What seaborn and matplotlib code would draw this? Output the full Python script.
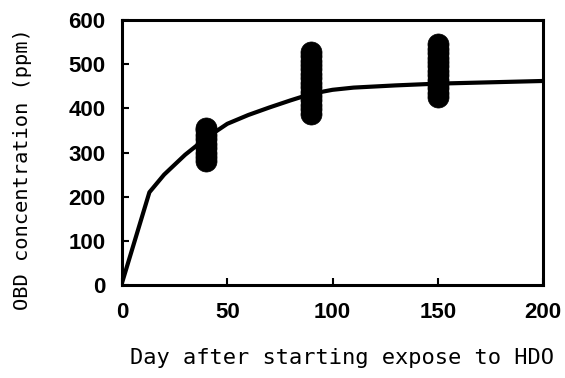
import pandas as pd
import seaborn as sns
import matplotlib.pyplot as plt

# fitted curve
curve_day = [0, 13, 20, 30, 40, 50, 60, 70, 80, 90, 100, 110, 130, 150, 175, 200]
curve_ppm = [5, 210, 250, 295, 333, 365, 385, 402, 418, 433, 442, 447, 452, 456, 459, 462]

# measured points
day40 = [280, 290, 300, 310, 320, 330, 340, 350, 356]
day90 = [388, 398, 408, 418, 428, 438, 448, 458, 468, 478, 488, 498, 508, 518, 528]
day150 = [425, 435, 445, 455, 465, 475, 485, 495, 505, 515, 525, 535, 545]

pts = pd.DataFrame({
    "day": [40] * len(day40) + [90] * len(day90) + [150] * len(day150),
    "ppm": day40 + day90 + day150,
})
curve = pd.DataFrame({"day": curve_day, "ppm": curve_ppm})

sns.set_style("white")
fig = plt.figure(figsize=(5.65, 3.78), dpi=100)
ax = fig.add_axes([0.216, 0.246, 0.745, 0.701])

sns.scatterplot(data=pts, x="day", y="ppm", ax=ax, color="black", s=230,
                edgecolor="black", linewidth=0.5, zorder=2)
sns.lineplot(data=curve, x="day", y="ppm", ax=ax, color="black", linewidth=3, zorder=3)

ax.set_xlim(0, 200)
ax.set_ylim(0, 600)
ax.set_xticks([0, 50, 100, 150, 200])
ax.set_yticks([0, 100, 200, 300, 400, 500, 600])
for s in ax.spines.values():
    s.set_color("black")
    s.set_linewidth(2.2)
ax.tick_params(direction="in", length=5, width=1.5, color="black", pad=12,
               labelsize=16, labelcolor="black", bottom=True, left=True)
for lab in ax.get_xticklabels() + ax.get_yticklabels():
    lab.set_family("Liberation Sans")
    lab.set_fontweight("bold")

ax.set_xlabel("Day after starting expose to HDO", family="DejaVu Sans Mono",
              fontsize=15.8, color="black")
ax.set_ylabel("OBD concentration (ppm)", family="DejaVu Sans Mono",
              fontsize=14.7, color="black")
ax.xaxis.set_label_coords(0.523, -0.238)
ax.yaxis.set_label_coords(-0.214, 0.438)

fig.savefig("out.png", dpi=100)
